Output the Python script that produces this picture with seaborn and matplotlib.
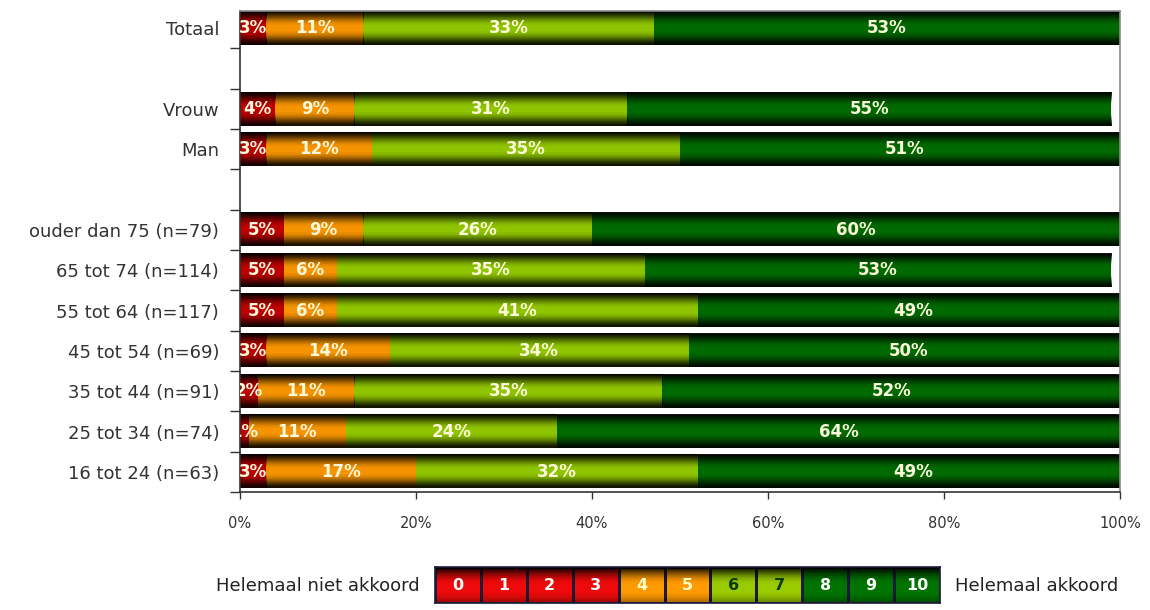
import numpy as np
import pandas as pd
import matplotlib
matplotlib.use("Agg")
import matplotlib.pyplot as plt
import seaborn as sns
from matplotlib.colors import ListedColormap
from matplotlib.ticker import FixedLocator, PercentFormatter

# Respondent groups (top to bottom) and the share per score band, in percent
groups = ["Totaal", "Vrouw", "Man",
          "ouder dan 75 (n=79)", "65 tot 74 (n=114)", "55 tot 64 (n=117)",
          "45 tot 54 (n=69)", "35 tot 44 (n=91)", "25 tot 34 (n=74)",
          "16 tot 24 (n=63)"]
row_order = ["Totaal", " ", "Vrouw", "Man", "  ",
             "ouder dan 75 (n=79)", "65 tot 74 (n=114)", "55 tot 64 (n=117)",
             "45 tot 54 (n=69)", "35 tot 44 (n=91)", "25 tot 34 (n=74)",
             "16 tot 24 (n=63)"]
score_0_3 = [3, 4, 3, 5, 5, 5, 3, 2, 1, 3]
score_4_5 = [11, 9, 12, 9, 6, 6, 14, 11, 11, 17]
score_6_7 = [33, 31, 35, 26, 35, 41, 34, 35, 24, 32]
score_8_10 = [53, 55, 51, 60, 53, 49, 50, 52, 64, 49]

band_names = ["0-3", "4-5", "6-7", "8-10"]
band_colors = ["#bd0000", "#f59300", "#8ec400", "#006a00"]

x_ticks = [0, 20, 40, 60, 80, 100]

legend_scores = list(range(11))
legend_colors = ["#ee0a0a"] * 4 + ["#ff9a00"] * 2 + ["#9acb00"] * 2 + ["#007400"] * 3
legend_text_colors = ["#ffffff"] * 4 + ["#ffffc8"] * 2 + ["#0a3a0a"] * 2 + ["#ffffff"] * 3
legend_left = "Helemaal niet akkoord"
legend_right = "Helemaal akkoord"

sns.set_theme(style="white")
plt.rcParams["font.family"] = ["DejaVu Sans"]

df = pd.DataFrame({"group": groups, "0-3": score_0_3, "4-5": score_4_5,
                   "6-7": score_6_7, "8-10": score_8_10})
cum = df[band_names].cumsum(axis=1)

fig = plt.figure(figsize=(11.5, 6.1), dpi=100)
ax = fig.add_axes([240 / 1150, 1 - 492 / 610, 880 / 1150, 481 / 610])


def shade_overlay(alpha):
    """Black RGBA column whose opacity follows the given profile."""
    img = np.zeros((len(alpha), 1, 4))
    img[:, 0, 3] = alpha
    return img


# dark rim shading laid over each flat-coloured bar
bar_overlay = shade_overlay([0.92, 0.72, 0.48, 0.25, 0.08, 0.0, 0.0, 0.0,
                             0.08, 0.25, 0.48, 0.72, 0.9])

# stacked bars: draw the cumulative totals from the widest band down
for k in reversed(range(len(band_names))):
    n0 = len(ax.patches)
    sns.barplot(x=cum[band_names[k]], y=df["group"], order=row_order,
                orient="h", color=band_colors[k], width=0.82, saturation=1,
                errorbar=None, ax=ax)
    for p in ax.patches[n0:]:
        p.set_edgecolor("none")
        x0, y0, w, h = p.get_x(), p.get_y(), p.get_width(), p.get_height()
        if not np.isfinite(w) or w == 0:
            continue
        ax.imshow(bar_overlay, extent=(x0, x0 + w, y0 + h, y0), origin="upper",
                  aspect="auto", interpolation="bilinear", zorder=p.get_zorder())

# value labels centred in each segment
for i, g in enumerate(groups):
    pos = row_order.index(g)
    for k, band in enumerate(band_names):
        v = df.loc[i, band]
        centre = cum.loc[i, band] - v / 2
        ax.text(centre, pos, f"{v}%", ha="center", va="center",
                fontsize=12, fontweight="bold", color="#fbf8dc",
                clip_on=True, zorder=6)

ax.set_xlim(0, 100)
ax.set_ylim(11.5, -0.43)
ax.set_xlabel("")
ax.set_ylabel("")
ax.xaxis.set_major_locator(FixedLocator(x_ticks))
ax.xaxis.set_major_formatter(PercentFormatter(decimals=0))
ax.tick_params(axis="x", bottom=True, length=5, width=1, color="#333333",
               direction="out", pad=12, labelsize=10.5, labelcolor="#333333")
ax.yaxis.set_minor_locator(FixedLocator(np.arange(0.5, 12, 1.0)))
ax.tick_params(axis="y", which="major", left=False, length=0, pad=15,
               labelsize=13, labelcolor="#333333")
ax.tick_params(axis="y", which="minor", left=True, length=7, width=1,
               color="#333333", direction="out")
for lbl in ax.get_yticklabels():
    lbl.set_verticalalignment("center_baseline")
for side in ["left", "bottom"]:
    ax.spines[side].set_color("#333333")
    ax.spines[side].set_linewidth(1.2)
for side in ["top", "right"]:
    ax.spines[side].set_color("#8a8a8a")
    ax.spines[side].set_linewidth(1.2)
    ax.spines[side].set_visible(True)

# score legend strip 0..10
lax = fig.add_axes([435 / 1150, 1 - 603 / 610, 505 / 1150, 36 / 610])
sns.heatmap(np.array([legend_scores]), cmap=ListedColormap(legend_colors),
            vmin=-0.5, vmax=10.5, annot=np.array([[str(s) for s in legend_scores]]),
            fmt="", cbar=False, linewidths=1, linecolor="#1c1c3a",
            annot_kws={"fontsize": 11.5, "fontweight": "bold"},
            xticklabels=False, yticklabels=False, ax=lax)
for t, c in zip(lax.texts, legend_text_colors):
    t.set_color(c)
    t.set_zorder(5)
leg_overlay = shade_overlay([0.88, 0.6, 0.35, 0.15, 0.03, 0.0, 0.0, 0.0,
                             0.05, 0.15, 0.3])
lax.imshow(leg_overlay, extent=(0, 11, 1, 0), origin="upper", aspect="auto",
           interpolation="bilinear", zorder=2)
lax.set_xlim(0, 11)
lax.set_ylim(1, 0)
for s in lax.spines.values():
    s.set_visible(True)
    s.set_color("#1c1c3a")
    s.set_linewidth(1.2)

fig.text(420 / 1150, 1 - 586 / 610, legend_left, ha="right", va="center",
         fontsize=13, color="#222222")
fig.text(955 / 1150, 1 - 586 / 610, legend_right, ha="left", va="center",
         fontsize=13, color="#222222")

fig.savefig("out.png", dpi=100)
